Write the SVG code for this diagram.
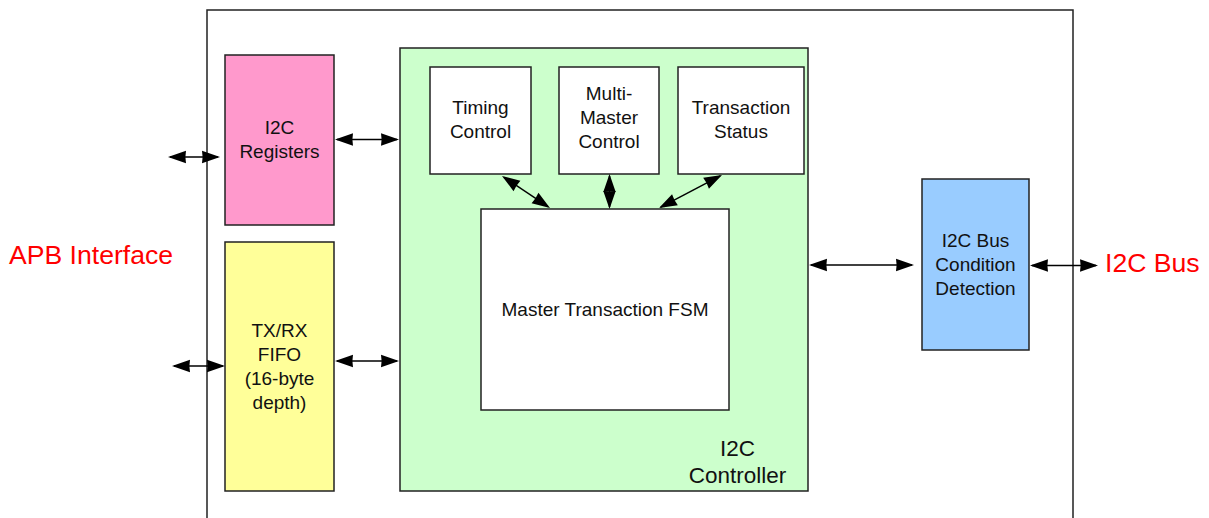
<svg xmlns="http://www.w3.org/2000/svg" xmlns:xlink="http://www.w3.org/1999/xlink" width="1209" height="518" viewBox="0 0 1209 518">
  <style>
    .box { stroke: #222; stroke-width: 1.5; }
    .lbl { font-family: "Liberation Sans", Arial, sans-serif; font-size: 19px; fill: #111; text-anchor: middle; }
    .big { font-family: "Liberation Sans", Arial, sans-serif; font-size: 26.6px; fill: #ff0000; }
    .ctl { font-family: "Liberation Sans", Arial, sans-serif; font-size: 22.5px; fill: #111; text-anchor: middle; }
    .wire { stroke: #000; stroke-width: 1.5; fill: none; }
    .tip { fill: #000; }
  </style>
  <defs>
    <!-- solid arrowhead with its point at the origin, facing +x -->
    <path id="tip" d="M0,0 L-18,-6.2 L-17.4,0 L-18,6.2 Z"/>
  </defs>

  <rect width="1209" height="518" fill="#fff"/>

  <!-- chip boundary, open at the bottom -->
  <g id="chip">
    <path d="M207,518 V10 H1073 V518" fill="none" stroke="#222" stroke-width="1.5"/>
  </g>

  <g id="apb-label"><text class="big" x="9" y="264">APB Interface</text></g>
  <g id="bus-label"><text class="big" x="1105" y="271.5">I2C Bus</text></g>

  <g id="registers">
    <rect class="box" x="225" y="55" width="109" height="170" fill="#ff99cc"/>
    <text class="lbl" x="279.5" y="134">I2C</text>
    <text class="lbl" x="279.5" y="158">Registers</text>
  </g>

  <g id="fifo">
    <rect class="box" x="225" y="242" width="109" height="249" fill="#ffff99"/>
    <text class="lbl" x="279.5" y="337">TX/RX</text>
    <text class="lbl" x="279.5" y="361">FIFO</text>
    <text class="lbl" x="279.5" y="385">(16-byte</text>
    <text class="lbl" x="279.5" y="409">depth)</text>
  </g>

  <g id="controller">
    <rect class="box" x="400" y="48" width="408" height="443" fill="#ccffcc"/>
    <text class="ctl" x="737.5" y="456">I2C</text>
    <text class="ctl" x="737.5" y="483">Controller</text>
  </g>

  <g id="timing">
    <rect class="box" x="430" y="67" width="101" height="107" fill="#fff"/>
    <text class="lbl" x="480.5" y="114">Timing</text>
    <text class="lbl" x="480.5" y="138">Control</text>
  </g>

  <g id="multimaster">
    <rect class="box" x="559" y="67" width="100" height="107" fill="#fff"/>
    <text class="lbl" x="609" y="100">Multi-</text>
    <text class="lbl" x="609" y="124">Master</text>
    <text class="lbl" x="609" y="148">Control</text>
  </g>

  <g id="status">
    <rect class="box" x="678" y="67" width="126" height="107" fill="#fff"/>
    <text class="lbl" x="741" y="114">Transaction</text>
    <text class="lbl" x="741" y="138">Status</text>
  </g>

  <g id="fsm">
    <rect class="box" x="481" y="209" width="248" height="201" fill="#fff"/>
    <text class="lbl" x="605" y="316">Master Transaction FSM</text>
  </g>

  <g id="condition">
    <rect class="box" x="922" y="179" width="107" height="171" fill="#99ccff"/>
    <text class="lbl" x="975.5" y="247">I2C Bus</text>
    <text class="lbl" x="975.5" y="271">Condition</text>
    <text class="lbl" x="975.5" y="295">Detection</text>
  </g>

  <!-- bidirectional wires: a shaft plus an arrowhead at each end -->
  <g id="connectors">
    <g id="apb-registers">
      <line class="wire" x1="170" y1="157" x2="218" y2="157"/>
      <use class="tip" xlink:href="#tip" href="#tip" transform="translate(168,157) rotate(180)"/>
      <use class="tip" xlink:href="#tip" href="#tip" transform="translate(220,157)"/>
    </g>
    <g id="apb-fifo">
      <line class="wire" x1="174" y1="366" x2="223" y2="366"/>
      <use class="tip" xlink:href="#tip" href="#tip" transform="translate(172,366) rotate(180)"/>
      <use class="tip" xlink:href="#tip" href="#tip" transform="translate(225,366)"/>
    </g>
    <g id="registers-controller">
      <line class="wire" x1="337" y1="139.5" x2="397" y2="139.5"/>
      <use class="tip" xlink:href="#tip" href="#tip" transform="translate(335,139.5) rotate(180)"/>
      <use class="tip" xlink:href="#tip" href="#tip" transform="translate(399,139.5)"/>
    </g>
    <g id="fifo-controller">
      <line class="wire" x1="337" y1="361" x2="397" y2="361"/>
      <use class="tip" xlink:href="#tip" href="#tip" transform="translate(335,361) rotate(180)"/>
      <use class="tip" xlink:href="#tip" href="#tip" transform="translate(399,361)"/>
    </g>
    <g id="controller-condition">
      <line class="wire" x1="811" y1="265" x2="912" y2="265"/>
      <use class="tip" xlink:href="#tip" href="#tip" transform="translate(809,265) rotate(180)"/>
      <use class="tip" xlink:href="#tip" href="#tip" transform="translate(914,265)"/>
    </g>
    <g id="condition-bus">
      <line class="wire" x1="1032" y1="265.5" x2="1096" y2="265.5"/>
      <use class="tip" xlink:href="#tip" href="#tip" transform="translate(1030,265.5) rotate(180)"/>
      <use class="tip" xlink:href="#tip" href="#tip" transform="translate(1098,265.5)"/>
    </g>
    <g id="timing-fsm">
      <line class="wire" x1="504" y1="177.3" x2="548" y2="206.7"/>
      <use class="tip" xlink:href="#tip" href="#tip" transform="translate(502,176) rotate(213.69)"/>
      <use class="tip" xlink:href="#tip" href="#tip" transform="translate(550,208) rotate(33.69)"/>
    </g>
    <g id="multimaster-fsm">
      <line class="wire" x1="609.5" y1="176" x2="609.5" y2="207"/>
      <use class="tip" xlink:href="#tip" href="#tip" transform="translate(609.5,174) rotate(-90)"/>
      <use class="tip" xlink:href="#tip" href="#tip" transform="translate(609.5,209) rotate(90)"/>
    </g>
    <g id="status-fsm">
      <line class="wire" x1="720.2" y1="175.9" x2="660.8" y2="207.1"/>
      <use class="tip" xlink:href="#tip" href="#tip" transform="translate(722,175) rotate(-27.65)"/>
      <use class="tip" xlink:href="#tip" href="#tip" transform="translate(659,208) rotate(152.35)"/>
    </g>
  </g>
</svg>
